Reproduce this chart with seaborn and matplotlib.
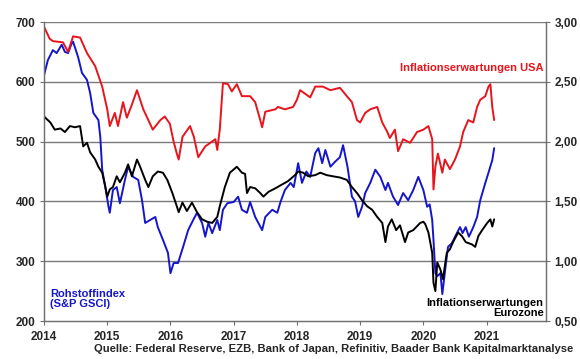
import pandas as pd
import matplotlib
matplotlib.use("Agg")
import matplotlib.pyplot as plt
import seaborn as sns

# Inflationserwartungen USA (rechte Achse)
usa_t = [2014.0, 2014.09, 2014.14, 2014.30, 2014.38, 2014.46, 2014.57, 2014.68, 2014.81, 2014.92,
         2015.0, 2015.04, 2015.12, 2015.17, 2015.25, 2015.31, 2015.39, 2015.47, 2015.57, 2015.65,
         2015.72, 2015.84, 2015.91, 2015.99, 2016.05, 2016.10, 2016.13, 2016.19, 2016.31, 2016.37,
         2016.44, 2016.55, 2016.71, 2016.74, 2016.78, 2016.83, 2016.91, 2016.97, 2017.05, 2017.13,
         2017.26, 2017.34, 2017.42, 2017.45, 2017.50, 2017.66, 2017.70, 2017.81, 2017.94, 2018.0,
         2018.05, 2018.21, 2018.29, 2018.41, 2018.53, 2018.68, 2018.79, 2018.87, 2018.95, 2019.0,
         2019.08, 2019.16, 2019.27, 2019.35, 2019.43, 2019.47, 2019.55, 2019.60, 2019.68, 2019.79,
         2019.90, 2020.0, 2020.08, 2020.14, 2020.16, 2020.19, 2020.23, 2020.30, 2020.34, 2020.42,
         2020.50, 2020.58, 2020.63, 2020.71, 2020.79, 2020.85, 2020.90, 2020.98, 2021.03, 2021.06,
         2021.09, 2021.12]
usa_v = [2.96, 2.86, 2.84, 2.83, 2.75, 2.88, 2.87, 2.74, 2.63, 2.46,
         2.27, 2.13, 2.24, 2.13, 2.33, 2.20, 2.31, 2.43, 2.27, 2.18,
         2.10, 2.18, 2.21, 2.15, 2.00, 1.90, 1.85, 2.04, 2.13, 2.04,
         1.87, 1.96, 2.02, 1.93, 2.10, 2.49, 2.48, 2.42, 2.48, 2.38,
         2.38, 2.33, 2.18, 2.12, 2.25, 2.27, 2.29, 2.27, 2.29, 2.35,
         2.43, 2.37, 2.46, 2.46, 2.43, 2.45, 2.38, 2.33, 2.18, 2.16,
         2.24, 2.27, 2.29, 2.16, 2.08, 2.03, 2.10, 1.92, 2.02, 1.99,
         2.08, 2.10, 2.13, 2.02, 1.60, 1.79, 1.90, 1.74, 1.85, 1.77,
         1.85, 1.96, 2.08, 2.18, 2.16, 2.29, 2.35, 2.38, 2.46, 2.48,
         2.29, 2.18]

# Inflationserwartungen Eurozone (rechte Achse)
ez_t = [2014.0, 2014.10, 2014.17, 2014.26, 2014.33, 2014.41, 2014.49, 2014.57, 2014.62, 2014.68,
        2014.73, 2014.81, 2014.86, 2014.92, 2014.97, 2015.0, 2015.04, 2015.09, 2015.15, 2015.20,
        2015.28, 2015.33, 2015.39, 2015.47, 2015.52, 2015.60, 2015.65, 2015.72, 2015.80, 2015.88,
        2015.95, 2016.03, 2016.10, 2016.13, 2016.19, 2016.26, 2016.34, 2016.42, 2016.50, 2016.58,
        2016.66, 2016.74, 2016.78, 2016.86, 2016.94, 2017.05, 2017.13, 2017.18, 2017.21, 2017.26,
        2017.34, 2017.42, 2017.47, 2017.55, 2017.66, 2017.76, 2017.86, 2017.97, 2018.02, 2018.10,
        2018.18, 2018.29, 2018.37, 2018.47, 2018.57, 2018.68, 2018.79, 2018.87, 2018.95, 2019.03,
        2019.11, 2019.19, 2019.27, 2019.35, 2019.40, 2019.44, 2019.50, 2019.57, 2019.63, 2019.71,
        2019.76, 2019.84, 2019.95, 2020.0, 2020.03, 2020.08, 2020.14, 2020.16, 2020.19, 2020.22,
        2020.27, 2020.31, 2020.37, 2020.42, 2020.47, 2020.55, 2020.61, 2020.67, 2020.77, 2020.82,
        2020.87, 2020.93, 2021.01, 2021.06, 2021.09, 2021.12]
ez_v = [2.21, 2.16, 2.10, 2.11, 2.08, 2.13, 2.12, 2.13, 1.96, 1.99,
        1.91, 1.85, 1.79, 1.74, 1.62, 1.54, 1.60, 1.62, 1.71, 1.66,
        1.74, 1.81, 1.71, 1.85, 1.79, 1.68, 1.62, 1.71, 1.75, 1.74,
        1.68, 1.57, 1.46, 1.41, 1.49, 1.42, 1.49, 1.41, 1.35, 1.33,
        1.32, 1.37, 1.46, 1.62, 1.74, 1.79, 1.74, 1.73, 1.57, 1.62,
        1.61, 1.57, 1.54, 1.58, 1.61, 1.64, 1.67, 1.72, 1.75, 1.74,
        1.71, 1.72, 1.74, 1.72, 1.71, 1.70, 1.68, 1.62, 1.57, 1.51,
        1.46, 1.43, 1.37, 1.32, 1.16, 1.29, 1.35, 1.26, 1.30, 1.16,
        1.24, 1.26, 1.32, 1.33, 1.31, 1.24, 1.07, 0.82, 0.75, 0.99,
        0.93, 0.85, 1.07, 1.10, 1.16, 1.24, 1.21, 1.16, 1.14, 1.12,
        1.21, 1.26, 1.32, 1.35, 1.29, 1.35]

# Rohstoffindex S&P GSCI (linke Achse)
gsci_t = [2014.0, 2014.06, 2014.14, 2014.20, 2014.28, 2014.33, 2014.38, 2014.44, 2014.46, 2014.54,
          2014.60, 2014.68, 2014.73, 2014.78, 2014.86, 2014.89, 2014.92, 2014.97, 2015.02, 2015.04,
          2015.09, 2015.15, 2015.20, 2015.28, 2015.33, 2015.41, 2015.49, 2015.55, 2015.60, 2015.68,
          2015.76, 2015.80, 2015.88, 2015.96, 2016.0, 2016.05, 2016.12, 2016.20, 2016.28, 2016.36,
          2016.42, 2016.50, 2016.55, 2016.60, 2016.66, 2016.74, 2016.78, 2016.83, 2016.90, 2017.0,
          2017.07, 2017.13, 2017.21, 2017.26, 2017.34, 2017.45, 2017.50, 2017.61, 2017.69, 2017.74,
          2017.81, 2017.90, 2017.95, 2018.02, 2018.08, 2018.15, 2018.21, 2018.29, 2018.34, 2018.40,
          2018.45, 2018.53, 2018.60, 2018.68, 2018.73, 2018.80, 2018.87, 2018.92, 2018.97, 2019.03,
          2019.08, 2019.16, 2019.24, 2019.32, 2019.40, 2019.44, 2019.52, 2019.60, 2019.68, 2019.76,
          2019.84, 2019.92, 2020.0, 2020.06, 2020.10, 2020.14, 2020.16, 2020.19, 2020.22, 2020.27,
          2020.30, 2020.35, 2020.39, 2020.45, 2020.53, 2020.58, 2020.62, 2020.67, 2020.72, 2020.79,
          2020.85, 2020.90, 2020.98, 2021.03, 2021.09, 2021.12]
gsci_v = [611, 636, 653, 648, 662, 650, 648, 665, 667, 641,
          615, 603, 581, 548, 536, 508, 453, 424, 391, 381,
          419, 424, 397, 436, 458, 441, 436, 402, 364, 369,
          374, 357, 336, 314, 280, 297, 297, 324, 352, 369,
          381, 364, 341, 364, 347, 369, 352, 386, 397, 399,
          408, 386, 381, 399, 374, 352, 374, 386, 381, 399,
          419, 431, 424, 464, 431, 450, 441, 481, 489, 464,
          486, 458, 466, 474, 494, 458, 408, 400, 374, 391,
          414, 431, 453, 441, 419, 431, 408, 394, 414, 402,
          419, 441, 419, 391, 395, 369, 336, 280, 275, 280,
          245, 290, 324, 330, 347, 357, 347, 357, 341, 357,
          374, 402, 431, 448, 469, 489]

years = list(range(2014, 2022))
left_ticks = [200, 300, 400, 500, 600, 700]
right_ticks = [0.5, 1.0, 1.5, 2.0, 2.5, 3.0]

usa = pd.DataFrame({"t": usa_t, "v": usa_v})
ez = pd.DataFrame({"t": ez_t, "v": ez_v})
gsci = pd.DataFrame({"t": gsci_t, "v": gsci_v})

sns.set_style("ticks")
plt.rcParams["font.family"] = ["Liberation Sans", "DejaVu Sans"]
plt.rcParams["font.weight"] = "bold"

RED = "#e8141c"
BLUE = "#1515cc"

fig = plt.figure(figsize=(5.8, 3.59), dpi=100)
ax = fig.add_axes([0.0759, 0.1058, 0.8655, 0.8329])
ax2 = ax.twinx()

sns.lineplot(data=gsci, x="t", y="v", color=BLUE, lw=1.4, estimator=None, ax=ax)
sns.lineplot(data=usa, x="t", y="v", color=RED, lw=1.4, estimator=None, ax=ax2)
sns.lineplot(data=ez, x="t", y="v", color="black", lw=1.4, estimator=None, ax=ax2)

ax.set_xlim(2014, 2021.94)
ax.set_ylim(200, 700)
ax2.set_ylim(0.5, 3.0)
ax.set_xticks(years)
ax.set_xticklabels([str(y) for y in years])
ax.set_yticks(left_ticks)
ax2.set_yticks(right_ticks)
ax2.set_yticklabels([f"{v:.2f}".replace(".", ",") for v in right_ticks])

for g in left_ticks[1:]:
    ax.axhline(g, color="#7a7a7a", lw=1, zorder=0)

for a in (ax, ax2):
    a.set_xlabel("")
    a.set_ylabel("")
    a.spines["top"].set_visible(False)
    for s in ("left", "right", "bottom"):
        a.spines[s].set_color("#707070")
        a.spines[s].set_linewidth(0.9)
    a.tick_params(labelsize=8.5, length=3, width=0.8, color="#707070", pad=3)
ax.tick_params(axis="x", pad=4)

ax.text(0.995, 0.845, "Inflationserwartungen USA", color=RED, fontsize=8,
        fontweight="bold", ha="right", va="center", transform=ax.transAxes)
ax.text(0.012, 0.04, "Rohstoffindex\n(S&P GSCI)", color=BLUE, fontsize=8,
        fontweight="bold", ha="left", va="bottom", linespacing=1.0, transform=ax.transAxes)
ax.text(0.995, 0.01, "Inflationserwartungen\nEurozone", color="black", fontsize=8,
        fontweight="bold", ha="right", va="bottom", multialignment="right",
        linespacing=1.0, transform=ax.transAxes)
fig.text(0.988, 0.027, "Quelle: Federal Reserve, EZB, Bank of Japan, Refinitiv, Baader Bank Kapitalmarktanalyse",
         fontsize=8.1, fontweight="bold", ha="right", va="center")

fig.savefig("out.png", dpi=100)
